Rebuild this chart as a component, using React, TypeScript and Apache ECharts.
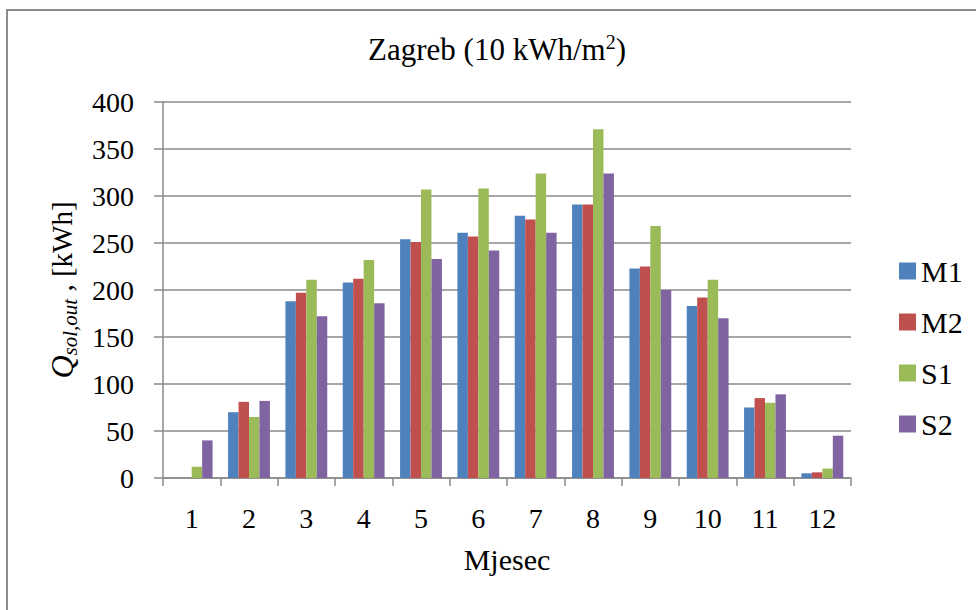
import React, { useEffect, useRef } from "react";
import * as echarts from "echarts";

const months = ["1", "2", "3", "4", "5", "6", "7", "8", "9", "10", "11", "12"];
const m1 = [0, 70, 188, 208, 254, 261, 279, 291, 223, 183, 75, 5];
const m2 = [0, 81, 197, 212, 251, 257, 275, 291, 225, 192, 85, 6];
const s1 = [12, 65, 211, 232, 307, 308, 324, 371, 268, 211, 80, 10];
const s2 = [40, 82, 172, 186, 233, 242, 261, 324, 200, 170, 89, 45];
const seriesNames = ["M1", "M2", "S1", "S2"];
const colors = ["#4F81BD", "#C0504D", "#9BBB59", "#8064A2"];

const FONT = "Liberation Serif";

export default function App() {
  const ref = useRef<HTMLDivElement>(null);
  useEffect(() => {
    document.body.style.margin = "0";
    if (!ref.current) return;
    const chart = echarts.init(ref.current, undefined, { renderer: "svg" });
    const data = [m1, m2, s1, s2];
    chart.setOption({
      animation: false,
      backgroundColor: "#ffffff",
      textStyle: { fontFamily: FONT, color: "#000" },
      grid: { left: 163, right: 125, top: 102, bottom: 132, containLabel: false },
      legend: {
        orient: "vertical",
        left: 894,
        top: 251,
        itemWidth: 17,
        itemHeight: 17,
        itemGap: 21,
        icon: "rect",
        data: seriesNames,
        textStyle: { fontFamily: FONT, fontSize: 30, color: "#000" },
      },
      xAxis: {
        type: "category",
        data: months,
        boundaryGap: true,
        name: "Mjesec",
        nameLocation: "middle",
        nameGap: 66,
        nameTextStyle: { fontFamily: FONT, fontSize: 30, color: "#000" },
        axisLine: { lineStyle: { color: "#8a8a8a", width: 1.5 } },
        axisTick: { show: true, length: 8, lineStyle: { color: "#8a8a8a", width: 1.5 } },
        axisLabel: { fontFamily: FONT, fontSize: 28, color: "#000", margin: 26 },
      },
      yAxis: {
        type: "value",
        min: 0,
        max: 400,
        interval: 50,
        axisLine: { show: true, lineStyle: { color: "#8a8a8a", width: 1.5 } },
        axisTick: { show: true, length: 9, lineStyle: { color: "#8a8a8a", width: 1.5 } },
        axisLabel: { fontFamily: FONT, fontSize: 28, color: "#000", margin: 29 },
        splitLine: { show: true, lineStyle: { color: "#8a8a8a", width: 1.5 } },
      },
      graphic: [
        {
          type: "rect",
          shape: { x: 7, y: 10, width: 1200, height: 1000 },
          style: { fill: "none", stroke: "#8c8c8c", lineWidth: 2 },
          silent: true,
        },
        {
          type: "text",
          x: 497,
          y: 49,
          style: {
            text: "{t|Zagreb (10 kWh/m}{sup|2}{t|)}",
            fontFamily: FONT,
            fill: "#000",
            align: "center",
            verticalAlign: "middle",
            rich: {
              t: { fontFamily: FONT, fontSize: 31, lineHeight: 34, verticalAlign: "middle", fill: "#000" },
              sup: { fontFamily: FONT, fontSize: 20, lineHeight: 22, verticalAlign: "top", fill: "#000" },
            },
          },
        },
        {
          type: "text",
          x: 62,
          y: 290,
          rotation: Math.PI / 2,
          style: {
            text: "{q|Q}{sub|sol,out}{n| , [kWh]}",
            fontFamily: FONT,
            fill: "#000",
            align: "center",
            verticalAlign: "middle",
            rich: {
              q: { fontFamily: FONT, fontSize: 32, fontStyle: "italic", lineHeight: 36, verticalAlign: "middle", fill: "#000" },
              sub: { fontFamily: FONT, fontSize: 21, fontStyle: "italic", lineHeight: 22, verticalAlign: "bottom", fill: "#000" },
              n: { fontFamily: FONT, fontSize: 29, lineHeight: 36, verticalAlign: "middle", fill: "#000" },
            },
          },
        },
      ],
      series: seriesNames.map((name, i) => ({
        name,
        type: "bar",
        data: data[i],
        barGap: "0%",
        barCategoryGap: "27%",
        itemStyle: { color: colors[i] },
      })),
    });
    return () => chart.dispose();
  }, []);
  return <div ref={ref} style={{ width: 976, height: 610 }} />;
}
